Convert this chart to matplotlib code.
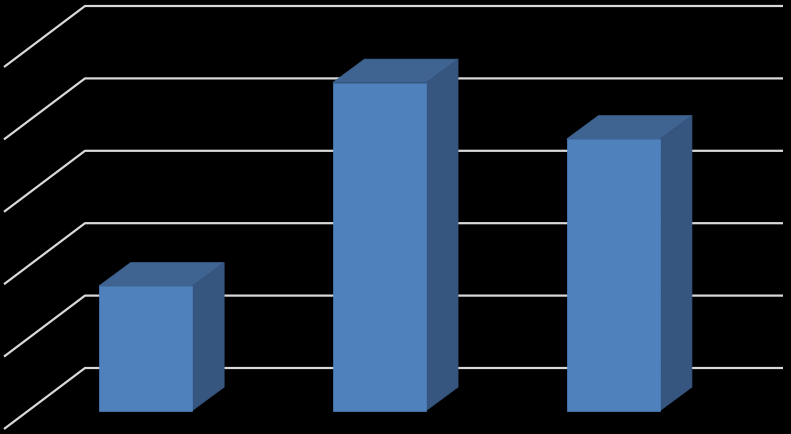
import numpy as np
import matplotlib
matplotlib.use("Agg")
import matplotlib.pyplot as plt

# values, in gridline steps
categories = ["1", "2", "3"]
values = [1.72, 4.53, 3.75]
grid_levels = [0, 1, 2, 3, 4, 5]

face_color = "#4F81BD"
top_color = "#3F6491"
side_color = "#36557F"
grid_color = "#D9D9D9"

# oblique 3d look: pixel scales of the reference
px_per_cat = 233.9
px_per_unit = 72.4
bar_w = 93.5 / px_per_cat
depth_x = 31.7 / px_per_cat
depth_y = 23.4 / px_per_unit
wall_y = 42.5 / px_per_unit          # back wall floor above bar front floor
diag_x = 81 / px_per_cat
diag_y = 61 / px_per_unit
wall_x = (85 - 145.7) / px_per_cat   # left edge of back wall
wall_right = (783 - 145.7) / px_per_cat

fig = plt.figure(figsize=(7.91, 4.35), dpi=100)
fig.patch.set_facecolor("black")
ax = fig.add_axes([0, 0, 1, 1])
ax.set_facecolor("black")
ax.set_xlim(-145.7 / px_per_cat, (791 - 145.7) / px_per_cat)
ax.set_ylim(-23.5 / px_per_unit, 411.5 / px_per_unit)
ax.axis("off")

# gridlines: horizontal on back wall, diagonal on side wall
for lv in grid_levels:
    yb = lv + wall_y
    ax.plot([wall_x - diag_x, wall_x, wall_right], [yb - diag_y, yb, yb],
            color=grid_color, lw=1.6, zorder=1, solid_capstyle="butt")

x = np.arange(len(categories))
ax.bar(x, values, width=bar_w, color=face_color, edgecolor=face_color,
       lw=0.5, zorder=3)
for xi, v in zip(x, values):
    l, r = xi - bar_w / 2, xi + bar_w / 2
    ax.fill([l, r, r + depth_x, l + depth_x], [v, v, v + depth_y, v + depth_y],
            facecolor=top_color, edgecolor=top_color, lw=0.5, zorder=2)
    ax.fill([r, r + depth_x, r + depth_x, r], [0, depth_y, v + depth_y, v],
            facecolor=side_color, edgecolor=side_color, lw=0.5, zorder=2)

fig.savefig("out.png", dpi=100, facecolor="black")
